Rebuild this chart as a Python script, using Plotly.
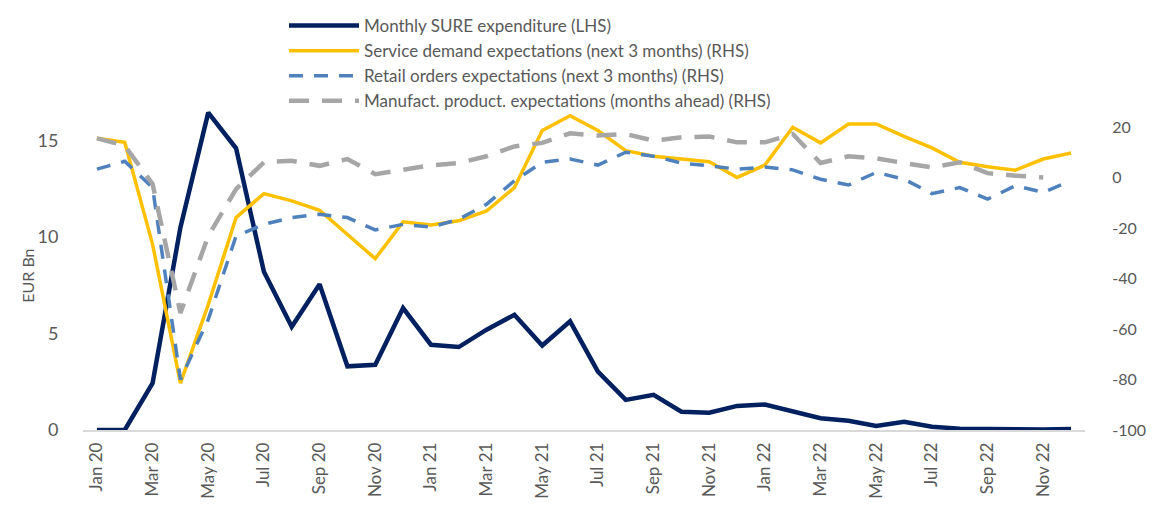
import plotly.graph_objects as go

months = ["Jan 20","Feb 20","Mar 20","Apr 20","May 20","Jun 20","Jul 20","Aug 20","Sep 20","Oct 20","Nov 20","Dec 20",
          "Jan 21","Feb 21","Mar 21","Apr 21","May 21","Jun 21","Jul 21","Aug 21","Sep 21","Oct 21","Nov 21","Dec 21",
          "Jan 22","Feb 22","Mar 22","Apr 22","May 22","Jun 22","Jul 22","Aug 22","Sep 22","Oct 22","Nov 22","Dec 22"]

sure = [0.0, 0.0, 2.43, 10.5, 16.45, 14.6, 8.2, 5.35, 7.55, 3.3, 3.38, 6.32,
        4.42, 4.3, 5.2, 5.97, 4.38, 5.63, 3.03, 1.56, 1.82, 0.95, 0.9, 1.25,
        1.32, 0.95, 0.61, 0.48, 0.21, 0.43, 0.17, 0.07, 0.05, 0.05, 0.02, 0.05]

service = [15.6, 14.0, -26.4, -81.4, -50.3, -15.8, -6.3, -9.2, -12.9, -22.4, -32.1, -17.5,
           -18.7, -17.1, -13.2, -3.9, 18.7, 24.6, 18.7, 10.7, 8.5, 7.4, 6.3, 0.1,
           5.0, 20.0, 13.8, 21.3, 21.3, 16.4, 11.8, 6.1, 4.3, 3.0, 7.4, 9.8]

retail = [3.4, 6.5, -3.9, -80.0, -56.2, -23.1, -18.5, -15.8, -14.5, -15.8, -20.7, -18.5,
          -19.6, -16.5, -10.5, -1.2, 6.1, 7.4, 5.0, 10.1, 8.5, 5.8, 4.7, 3.4,
          4.2, 3.1, -0.6, -2.9, 2.1, -0.6, -6.3, -3.9, -8.5, -3.2, -5.8, -1.2]

manuf = [15.6, 12.7, -2.5, -53.6, -23.1, -4.5, 6.1, 6.7, 4.7, 7.4, 1.4, 3.1,
         4.9, 5.8, 8.5, 12.4, 13.8, 17.6, 16.7, 17.3, 14.7, 16.0, 16.3, 14.0,
         14.0, 17.3, 5.8, 8.5, 7.7, 5.8, 4.1, 6.1, 1.8, 0.8, 0.1, None]

left_ticks = [0, 5, 10, 15]
right_ticks = [-100, -80, -60, -40, -20, 0, 20]
right_ticktext = [str(v) for v in right_ticks]  # hyphen-minus as in the original

x = list(range(len(months)))
tickvals = x[::2]
ticktext = months[::2]

FONT = "Lato, 'Open Sans', sans-serif"
TXT = "#595959"
CLEAR = "rgba(0,0,0,0)"

# page body has an 8px margin on every side; size the figure so nothing overflows
W, H = 1139, 494

fig = go.Figure()
fig.add_trace(go.Scatter(x=x, y=sure, name="Monthly SURE expenditure (LHS)", mode="lines",
                         line=dict(color="#002060", width=4.5), yaxis="y"))
fig.add_trace(go.Scatter(x=x, y=service, name="Service demand expectations (next 3 months) (RHS)", mode="lines",
                         line=dict(color="#FFC000", width=3.5), yaxis="y2"))
fig.add_trace(go.Scatter(x=x, y=retail, name="Retail orders expectations (next 3 months) (RHS)", mode="lines",
                         line=dict(color="#4F81BD", width=3.5, dash="14px,11px"), yaxis="y2"))
fig.add_trace(go.Scatter(x=x, y=manuf, name="Manufact. product. expectations (months ahead) (RHS)", mode="lines",
                         line=dict(color="#A6A6A6", width=4.5, dash="20px,13px"), yaxis="y2", connectgaps=False))

fig.add_annotation(text="EUR Bn", xref="paper", yref="paper", x=-0.055, y=0.47,
                   xanchor="center", yanchor="middle",
                   textangle=-90, showarrow=False, font=dict(family=FONT, size=16, color=TXT))

fig.update_layout(
    width=W, height=H,
    margin=dict(l=75, r=62, t=94, b=72, autoexpand=False),
    paper_bgcolor="white", plot_bgcolor="white",
    font=dict(family=FONT, size=17, color=TXT),
    showlegend=True,
    legend=dict(xref="container", yref="container", x=276 / W, y=1 + 2 / H,
                xanchor="left", yanchor="top", bgcolor=CLEAR,
                font=dict(family=FONT, size=17, color=TXT), itemwidth=70, tracegroupgap=0,
                traceorder="normal"),
    xaxis=dict(range=[-0.5, 35.5], tickmode="array", tickvals=tickvals, ticktext=ticktext,
               tickangle=-90, showgrid=False, zeroline=False, showline=True, linecolor="#D9D9D9",
               linewidth=1.5, ticks="outside", ticklen=4, tickcolor=CLEAR,
               tickfont=dict(size=17, color=TXT), automargin=False),
    yaxis=dict(range=[0, 17], tickmode="array", tickvals=left_ticks, showgrid=False, zeroline=False,
               ticks="outside", ticklen=20, tickcolor=CLEAR,
               tickfont=dict(size=18, color=TXT), automargin=False),
    yaxis2=dict(range=[-100, 30], tickmode="array", tickvals=right_ticks, ticktext=right_ticktext,
                overlaying="y", side="right", showgrid=False, zeroline=False,
                ticks="outside", ticklen=23, tickcolor=CLEAR,
                tickfont=dict(size=16, color=TXT), automargin=False),
)

fig.write_html("out.html")
